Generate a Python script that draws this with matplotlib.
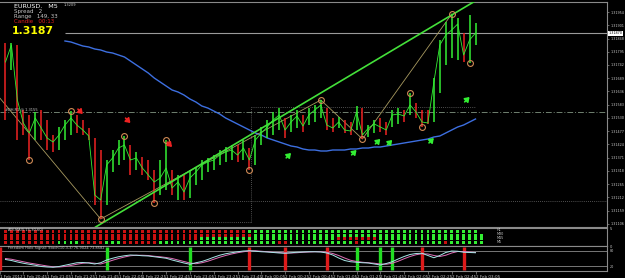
import numpy as np
import matplotlib
matplotlib.use("Agg")
import matplotlib.pyplot as plt

W, H = 625, 278

# ---- data: EURUSD. M5, bar 0 = 1 Feb 2012 20:30, one bar every 5 min ----
first_open = 1.31802
highs = [1.31830, 1.31830, 1.31822, 1.31562, 1.31542, 1.31554, 1.31562, 1.31522, 1.31462, 1.31494,
         1.31522, 1.31558, 1.31542, 1.31522, 1.31490, 1.31450, 1.31402, 1.31362, 1.31402, 1.31442,
         1.31458, 1.31422, 1.31394, 1.31374, 1.31362, 1.31322, 1.31362, 1.31442, 1.31322, 1.31302,
         1.31302, 1.31322, 1.31330, 1.31362, 1.31370, 1.31382, 1.31402, 1.31414, 1.31422, 1.31422,
         1.31442, 1.31410, 1.31462, 1.31494, 1.31522, 1.31554, 1.31570, 1.31530, 1.31542, 1.31562,
         1.31542, 1.31570, 1.31582, 1.31602, 1.31570, 1.31530, 1.31534, 1.31522, 1.31514, 1.31578,
         1.31570, 1.31502, 1.31522, 1.31530, 1.31514, 1.31562, 1.31570, 1.31562, 1.31630, 1.31590,
         1.31562, 1.31562, 1.31690, 1.31842, 1.31914, 1.31946, 1.31930, 1.31870, 1.31942, 1.31910]
lows = [1.31522, 1.31722, 1.31442, 1.31462, 1.31362, 1.31442, 1.31442, 1.31402, 1.31394, 1.31402,
        1.31442, 1.31462, 1.31470, 1.31462, 1.31442, 1.31182, 1.31126, 1.31182, 1.31314, 1.31342,
        1.31362, 1.31302, 1.31322, 1.31302, 1.31282, 1.31190, 1.31222, 1.31242, 1.31222, 1.31202,
        1.31202, 1.31210, 1.31262, 1.31282, 1.31314, 1.31322, 1.31342, 1.31354, 1.31362, 1.31354,
        1.31362, 1.31322, 1.31342, 1.31422, 1.31450, 1.31462, 1.31482, 1.31450, 1.31474, 1.31490,
        1.31474, 1.31502, 1.31514, 1.31530, 1.31482, 1.31474, 1.31490, 1.31470, 1.31462, 1.31482,
        1.31446, 1.31454, 1.31470, 1.31474, 1.31462, 1.31494, 1.31506, 1.31514, 1.31542, 1.31530,
        1.31494, 1.31506, 1.31514, 1.31630, 1.31742, 1.31770, 1.31762, 1.31754, 1.31750, 1.31822]
closes = [1.31754, 1.31822, 1.31602, 1.31510, 1.31470, 1.31530, 1.31490, 1.31450, 1.31434, 1.31462,
          1.31502, 1.31530, 1.31502, 1.31482, 1.31458, 1.31222, 1.31202, 1.31342, 1.31370, 1.31410,
          1.31422, 1.31362, 1.31370, 1.31330, 1.31302, 1.31274, 1.31290, 1.31330, 1.31250, 1.31274,
          1.31234, 1.31290, 1.31314, 1.31342, 1.31354, 1.31362, 1.31382, 1.31394, 1.31402, 1.31382,
          1.31410, 1.31362, 1.31442, 1.31470, 1.31494, 1.31522, 1.31542, 1.31482, 1.31514, 1.31538,
          1.31498, 1.31542, 1.31562, 1.31582, 1.31502, 1.31490, 1.31514, 1.31482, 1.31478, 1.31554,
          1.31462, 1.31490, 1.31506, 1.31494, 1.31482, 1.31542, 1.31546, 1.31538, 1.31582, 1.31554,
          1.31514, 1.31510, 1.31674, 1.31822, 1.31862, 1.31882, 1.31906, 1.31782, 1.31842, 1.31870]

ma_start = 10
ma_values = [1.31838, 1.31834, 1.31826, 1.31818, 1.31814, 1.31806, 1.31802, 1.31794, 1.31790, 1.31782,
             1.31774, 1.31758, 1.31742, 1.31726, 1.31710, 1.31690, 1.31674, 1.31658, 1.31642, 1.31634,
             1.31622, 1.31606, 1.31594, 1.31578, 1.31570, 1.31558, 1.31546, 1.31530, 1.31518, 1.31506,
             1.31494, 1.31482, 1.31470, 1.31462, 1.31450, 1.31442, 1.31434, 1.31426, 1.31418, 1.31414,
             1.31406, 1.31402, 1.31402, 1.31398, 1.31398, 1.31402, 1.31402, 1.31402, 1.31406, 1.31406,
             1.31410, 1.31410, 1.31414, 1.31414, 1.31418, 1.31422, 1.31426, 1.31430, 1.31434, 1.31438,
             1.31442, 1.31446, 1.31454, 1.31458, 1.31470, 1.31482, 1.31494, 1.31502, 1.31514, 1.31526]

zz_idx = [-6, 16, 53, 60, 75]
zz_price = [1.31754, 1.31126, 1.31602, 1.31446, 1.31946]
swing_high_idx = [11, 20, 27, 53, 68, 75]
swing_low_idx = [4, 16, 25, 41, 60, 70, 78]
trend_pts = [(16, 1.31106), (75, 1.31942)]

sell_idx = [13, 21, 28]
sell_price = [1.31546, 1.31510, 1.31414]
buy_idx = [48, 59, 63, 65, 72, 78]
buy_price = [1.31390, 1.31402, 1.31446, 1.31442, 1.31450, 1.31614]

bid = 1.31870
day_level = 1.31554
box_levels = [1.31198, 1.31114, 1.31574]

# multi timeframe dots, rows top to bottom
dot_rows = [
    "rrrrrrrrrrrrrrrrrrrrrrrrrrrrrrrrrrrrrrrrrggggggggggggggggggggggggggggggggggggggg",
    "rrrrrrrrrrrrrrrrrrrrrrrrrrrrrrrrrrrrrrrrrrggggggggggggggggggggggggggggggggggggggg",
    "rrrrrrrrrrrrrrrrrrrrrrrrrrrrrrrrrgggggggggggggggggggggggrrrrrrrgggggggggggggggggg",
    "rrrrrrrrrggggrrrrgggrrrrrrggggggggggggggggggggrrgggggggggggrggggggggggggggrgggggg",
]

stoch_main = [46, 42, 36, 31, 27, 23, 18, 16, 15, 18, 23, 28, 33, 34, 32, 28, 33, 44, 51, 57,
              61, 64, 63, 61, 60, 57, 54, 51, 44, 38, 32, 27, 33, 38, 46, 55, 63, 69, 73, 77,
              80, 81, 79, 77, 76, 74, 72, 71, 73, 75, 76, 77, 77, 76, 72, 64, 52, 42, 37, 35,
              33, 32, 28, 24, 30, 37, 48, 58, 66, 70, 71, 62, 53, 62, 74, 80, 79, 75, 74, 73]
stoch_sig = [50, 47, 42, 37, 32, 28, 24, 20, 17, 16, 18, 22, 27, 31, 33, 31, 28, 35, 43, 50,
             56, 61, 63, 63, 62, 59, 57, 54, 50, 44, 38, 32, 29, 33, 39, 47, 55, 62, 68, 73,
             77, 80, 81, 79, 77, 75, 74, 72, 72, 73, 75, 76, 77, 77, 75, 70, 62, 52, 43, 38,
             35, 33, 31, 28, 27, 31, 39, 49, 58, 65, 69, 68, 62, 58, 63, 72, 78, 78, 76, 74]
sig_up = [17, 31, 59, 63, 65]
sig_dn = [-1, 41, 47, 54, 70, 77]

time_idx = [3, 7, 11, 15, 19, 23, 27, 31, 35, 39, 43, 47, 51, 55, 59, 63, 67, 71, 75, 79]
time_lbl = ["1 Feb 20:45", "1 Feb 21:05", "1 Feb 21:25", "1 Feb 21:45", "1 Feb 22:05",
            "1 Feb 22:25", "1 Feb 22:45", "1 Feb 23:05", "1 Feb 23:25", "1 Feb 23:45",
            "2 Feb 00:05", "2 Feb 00:25", "2 Feb 00:45", "2 Feb 01:05", "2 Feb 01:25",
            "2 Feb 01:45", "2 Feb 02:05", "2 Feb 02:25", "2 Feb 02:45", "2 Feb 03:05"]

GREEN = "#33ee33"
RED = "#ee2222"
GRID = "#8a8a8a"
TXT = "#c8c8c8"
XMIN, XMAX = -0.92, 101.1


def rect(x0, y0, x1, y1):
    return [x0 / W, 1 - y1 / H, (x1 - x0) / W, (y1 - y0) / H]


def style(ax):
    ax.set_facecolor("black")
    for s in ax.spines.values():
        s.set_color(GRID)
        s.set_linewidth(0.8)
    ax.spines["left"].set_visible(False)
    ax.set_xlim(XMIN, XMAX)


fig = plt.figure(figsize=(W / 100, H / 100), dpi=100, facecolor="black")

# ---------------- main price panel ----------------
ax = fig.add_axes(rect(0, 2, 607, 227))
style(ax)
ax.set_ylim(1.31094, 1.31994)
n = len(closes)
idx = np.arange(n)
opens = [first_open] + closes[:-1]
cols = [GREEN if c >= o else RED for c, o in zip(closes, opens)]
ax.vlines(idx, lows, highs, colors=cols, lw=1.1, zorder=3)
ax.plot(idx, closes, color=GREEN, lw=0.6, zorder=3)

ma_x = np.arange(ma_start, ma_start + len(ma_values))
ax.plot(ma_x, ma_values, color="#3d6fe0", lw=1.0, zorder=2)

ax.plot(zz_idx, zz_price, color="#a89a60", lw=0.6, zorder=2)
ax.axline(trend_pts[0], trend_pts[1], color="#44e03a", lw=1.2, zorder=4)

ax.plot(swing_high_idx, [highs[i] for i in swing_high_idx], "o", ms=4.2, mfc="none",
        mec="#d08a55", mew=0.8, zorder=5)
ax.plot(swing_low_idx, [lows[i] for i in swing_low_idx], "o", ms=4.2, mfc="none",
        mec="#d08a55", mew=0.8, zorder=5)

arrow_props = dict(arrowstyle="-|>,head_length=0.5,head_width=0.35", lw=1.2,
                   mutation_scale=5, shrinkA=0, shrinkB=0)
for i, p in zip(sell_idx, sell_price):
    ax.annotate("", xy=(i, p), xytext=(-3.5, 3.5), textcoords="offset points",
                arrowprops=dict(color=RED, **arrow_props), zorder=6)
for i, p in zip(buy_idx, buy_price):
    ax.annotate("", xy=(i, p), xytext=(-3.5, -3.5), textcoords="offset points",
                arrowprops=dict(color=GREEN, **arrow_props), zorder=6)

ax.hlines(bid, 10, XMAX, color="#9a9a9a", lw=0.8, zorder=1)
ax.axhline(day_level, color="#708070", lw=0.7, ls=(0, (6, 2, 1, 2)), zorder=1)
ax.hlines(box_levels[0], XMIN, XMAX, color="#6a6a6a", lw=0.6, ls=(0, (1, 1.5)), zorder=1)
ax.hlines(box_levels[1], XMIN, 41.3, color="#6a6a6a", lw=0.6, ls=(0, (1, 1.5)), zorder=1)
ax.hlines(box_levels[2], 41.3, 79, color="#6a6a6a", lw=0.6, ls=(0, (1, 1.5)), zorder=1)
ax.vlines(41.3, box_levels[1], box_levels[2], color="#6a6a6a", lw=0.6, ls=(0, (1, 1.5)), zorder=1)
ax.text(0, day_level + 0.00004, "#DH.R1 @ 1.3155", color=TXT, fontsize=2.6, va="bottom")

ax.set_xticks([])
ax.yaxis.tick_right()
yt = np.arange(1.31954, 1.3110, -0.00053)
ax.set_yticks(yt)
ax.set_yticklabels([f"{v:.5f}" for v in yt])
ax.tick_params(axis="y", colors=GRID, labelcolor=TXT, labelsize=2.4, length=1.5, width=0.5, pad=1)
ax.text(1.002, bid, f"{bid:.5f}", transform=ax.get_yaxis_transform(), fontsize=2.4,
        color="black", va="center", ha="left",
        bbox=dict(boxstyle="square,pad=0.15", fc="white", ec="none"), zorder=7)

# info block
def ftext(x, y, s, **kw):
    fig.text(x / W, 1 - y / H, s, va="center", ha="left", **kw)

ftext(14, 6.5, "EURUSD.   M5", color="white", fontsize=4.6)
ftext(14, 11.5, "Spread   2", color=TXT, fontsize=4)
ftext(14, 16.5, "Range   149, 33", color=TXT, fontsize=4)
ftext(14, 21.5, "Candle   00:13", color="#e02020", fontsize=4)
ftext(12, 31.5, "1.3187", color="#ffff00", fontsize=7.8, fontweight="bold")
ftext(64, 4.5, "1.3209", color=TXT, fontsize=2.6)

# ---------------- dots panel ----------------
ax2 = fig.add_axes(rect(0, 228, 607, 246))
style(ax2)
ax2.set_ylim(0, 5)
for r, row in enumerate(dot_rows):
    yv = 4 - r
    c = [GREEN if ch == "g" else "#cc1111" for ch in row]
    ax2.scatter(np.arange(len(row)), [yv] * len(row), s=4, marker="s", c=c, lw=0, zorder=3)
ax2.set_xticks([])
ax2.yaxis.tick_right()
ax2.set_yticks([5, 0])
ax2.set_yticklabels(["5", "0"])
ax2.tick_params(axis="y", colors=GRID, labelcolor=TXT, labelsize=2.6, length=0, pad=2)
ax2.text(0.5, 4.4, "ATR-MA(5,15,30,60)", color=TXT, fontsize=2.6, va="center", zorder=4)
for k, tf in enumerate(["H1", "M30", "M15", "M5"]):
    ax2.text(82.5, 4.4 - k * 1.1, tf, color=TXT, fontsize=2.4, va="center")

# ---------------- stochastic panel ----------------
ax3 = fig.add_axes(rect(0, 246, 607, 271))
style(ax3)
ax3.set_ylim(0, 100)
for lv in (80, 20):
    ax3.axhline(lv, color=GRID, lw=0.6, zorder=1)
for i in sig_up:
    ax3.vlines(i, 3, 97, color="#22dd22", lw=2.4, zorder=2)
for i in sig_dn:
    ax3.vlines(i, 3, 97, color="#dd1a1a", lw=2.4, zorder=2)
ax3.plot(idx, stoch_sig, color="#e070b8", lw=0.7, zorder=3)
ax3.plot(idx, stoch_main, color="#a8e8e8", lw=0.7, zorder=4)
ax3.text(0.5, 90, "Freedom Holo Signal: Stoch(10,3,3) 76.9024 73.8582", color=TXT,
         fontsize=2.6, va="center", zorder=5)
ax3.yaxis.tick_right()
ax3.set_yticks([80, 20])
ax3.set_yticklabels(["80", "20"])
ax3.tick_params(axis="y", colors=GRID, labelcolor=TXT, labelsize=2.4, length=0, pad=2)

ax3.set_xticks([-0.9] + time_idx)
ax3.set_xticklabels(["1 Feb 2012"] + time_lbl, ha="left")
ax3.tick_params(axis="x", colors=GRID, labelcolor=TXT, labelsize=3, length=2, width=0.5, pad=0.8)

fig.savefig("out.png", dpi=100, facecolor="black")
